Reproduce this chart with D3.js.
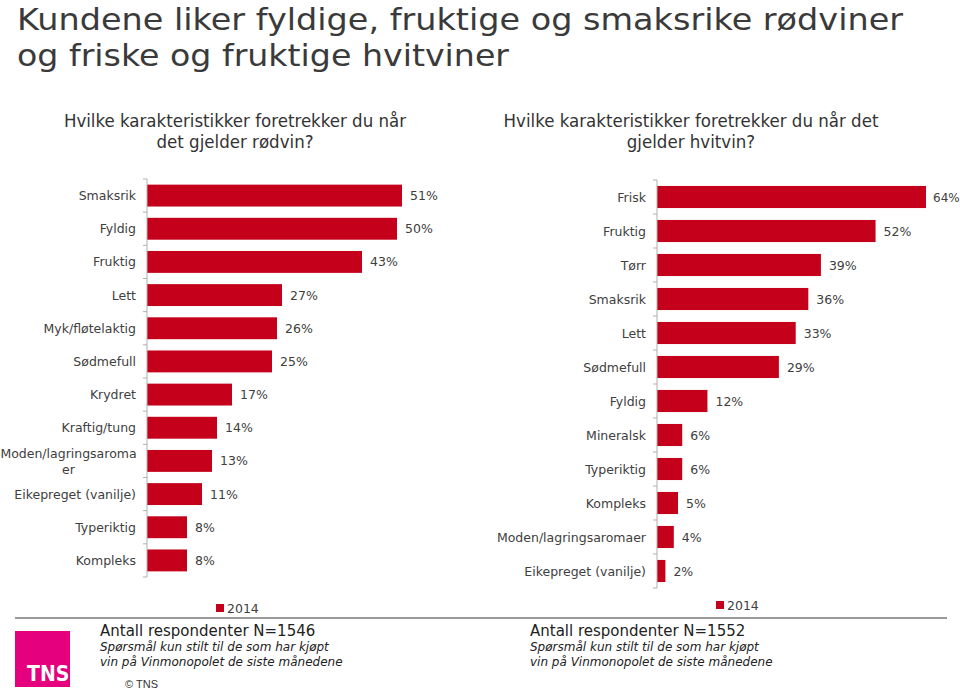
<!DOCTYPE html>
<html><head><meta charset="utf-8">
<script src="https://cdn.jsdelivr.net/npm/d3@7"></script>
<style>
body{margin:0;background:#fff;}
svg{display:block;}
.cond{font-family:'DejaVu Sans Condensed','DejaVu Sans',sans-serif;font-stretch:condensed;}
.lab{font-family:'DejaVu Sans',Verdana,sans-serif;}
</style></head>
<body>
<script>
const redCategories = ["Smaksrik","Fyldig","Fruktig","Lett","Myk/fløtelaktig","Sødmefull","Krydret","Kraftig/tung","Moden/lagringsaromaer","Eikepreget (vanilje)","Typeriktig","Kompleks"];
const redValues = [51,50,43,27,26,25,17,14,13,11,8,8];
const whiteCategories = ["Frisk","Fruktig","Tørr","Smaksrik","Lett","Sødmefull","Fyldig","Mineralsk","Typeriktig","Kompleks","Moden/lagringsaromaer","Eikepreget (vanilje)"];
const whiteValues = [64,52,39,36,33,29,12,6,6,5,4,2];
const seriesName = "2014";
const titleLines = ["Kundene liker fyldige, fruktige og smaksrike rødviner","og friske og fruktige hvitviner"];
const leftQuestion = ["Hvilke karakteristikker foretrekker du når","det gjelder rødvin?"];
const rightQuestion = ["Hvilke karakteristikker foretrekker du når det","gjelder hvitvin?"];
const leftN = "Antall respondenter N=1546";
const rightN = "Antall respondenter N=1552";
const noteLines = ["Spørsmål kun stilt til de som har kjøpt","vin på Vinmonopolet de siste månedene"];
const leftWrapped = {"Moden/lagringsaromaer":["Moden/lagringsaroma","er"]};

const W=960,H=690, RED="#C4001A", TXT="#404040";
const svg=d3.select("body").append("svg").attr("width",W).attr("height",H);

const titleLen=[886,492];
titleLines.forEach((t,i)=>{
  svg.append("text").attr("class","lab").attr("x",17).attr("y",30+i*36)
    .attr("font-size",31).attr("fill","#3a3a3a")
    .attr("textLength",titleLen[i]).attr("lengthAdjust","spacingAndGlyphs").text(t);
});
function question(lines,cx){
  lines.forEach((t,i)=>svg.append("text").attr("class","cond").attr("x",cx).attr("y",127+i*21)
    .attr("text-anchor","middle").attr("font-size",18.5).attr("fill","#333").text(t));
}
question(leftQuestion,235);
question(rightQuestion,691);

function chart(cats,vals,x0,x1,maxV,y0,y1,pad,wrapped){
  const x=d3.scaleLinear().domain([0,maxV]).range([x0,x1]);
  const y=d3.scaleBand().domain(cats).range([y0,y1]).paddingInner(pad).paddingOuter(pad/2);
  const g=svg.append("g");
  g.selectAll("rect.bar").data(cats).join("rect").attr("class","bar")
    .attr("x",x(0)).attr("y",d=>y(d)).attr("height",y.bandwidth())
    .attr("width",(d,i)=>x(vals[i])-x(0)).attr("fill",RED);
  g.append("line").attr("x1",x0).attr("x2",x0).attr("y1",y0).attr("y2",y1).attr("stroke","#b0b0b0").attr("stroke-width",1);
  d3.range(cats.length+1).forEach(i=>{
    const yy=y0+i*y.step();
    g.append("line").attr("x1",x0-4).attr("x2",x0).attr("y1",yy).attr("y2",yy).attr("stroke","#b0b0b0");
  });
  cats.forEach(c=>{
    const cy=y(c)+y.bandwidth()/2;
    const t=g.append("text").attr("class","lab").attr("font-size",12.5).attr("fill",TXT);
    if(wrapped[c]){
      const cx=(x0-12)/2+1;
      t.attr("text-anchor","middle");
      t.append("tspan").attr("x",cx).attr("y",cy-3).text(wrapped[c][0]);
      t.append("tspan").attr("x",cx).attr("y",cy+13).text(wrapped[c][1]);
    } else {
      t.attr("text-anchor","end").attr("x",x0-11).attr("y",cy+4.5).text(c);
    }
  });
  cats.forEach((c,i)=>{
    const t=g.append("text").attr("class","lab").attr("font-size",12.5).attr("fill",TXT)
      .attr("x",x(vals[i])+8).attr("y",y(c)+y.bandwidth()/2+4.5).text(vals[i]+"%");
    const w=t.node().getComputedTextLength();
    if(x(vals[i])+8+w>W-1){
      t.attr("font-size",12).attr("x",x(vals[i])+7);
    }
  });
}
chart(redCategories,redValues,147,402,51,179,577,0.34,leftWrapped);
chart(whiteCategories,whiteValues,657,926,64,180,588,0.35,{});

function legend(x,y){
  svg.append("rect").attr("x",x).attr("y",y).attr("width",8).attr("height",8).attr("fill",RED);
  svg.append("text").attr("class","lab").attr("x",x+11).attr("y",y+8.5).attr("font-size",12.5).attr("fill",TXT).text(seriesName);
}
legend(216,604);
legend(716,601);

svg.append("line").attr("x1",15).attr("x2",947).attr("y1",618).attr("y2",618).attr("stroke","#9a9a9a").attr("stroke-width",2);

svg.append("rect").attr("x",15).attr("y",631).attr("width",55).attr("height",56).attr("fill","#E5007D");
svg.append("text").attr("class","cond").attr("x",27).attr("y",681).attr("font-size",21).attr("font-weight","bold").attr("fill","#fff").text("TNS");

function notes(x,n){
  svg.append("text").attr("class","lab").attr("x",x).attr("y",636).attr("font-size",15).attr("fill","#222").text(n);
  noteLines.forEach((t,i)=>svg.append("text").attr("class","lab").attr("x",x).attr("y",651+i*14.5)
    .attr("font-size",12).attr("font-style","italic").attr("fill","#222").text(t));
}
notes(100,leftN);
notes(530,rightN);
svg.append("text").attr("x",125).attr("y",688).attr("font-family","'Liberation Sans',Arial,sans-serif").attr("font-size",11).attr("fill","#333").text("© TNS");
</script>
</body></html>
